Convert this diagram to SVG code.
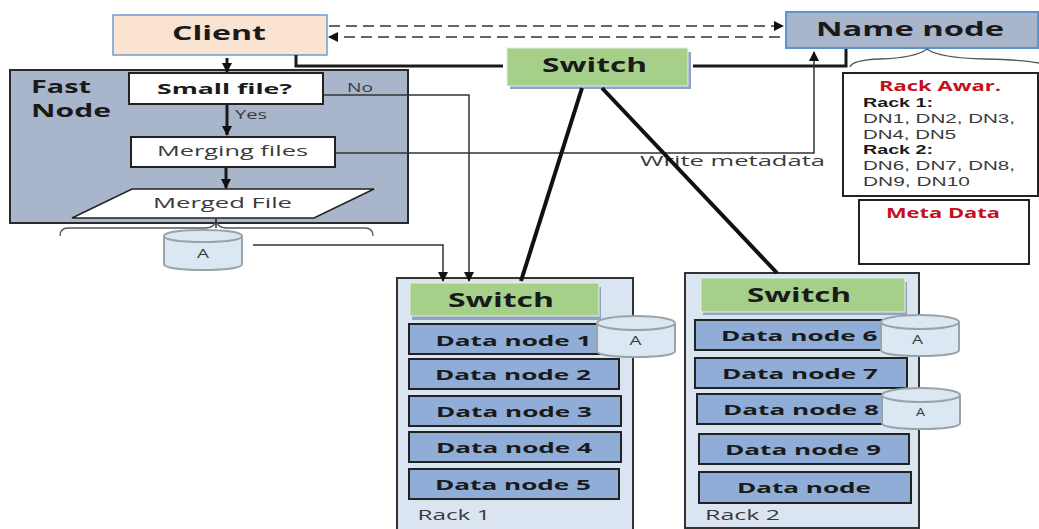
<svg xmlns="http://www.w3.org/2000/svg" width="1039" height="529" viewBox="0 0 1039 529">
<style>
text{font-family:"Open Sans","Liberation Sans",sans-serif;fill:#1a1a1a}
.b{font-weight:700}
.g{fill:#3a3a3a}
.list{font-family:"Liberation Sans",sans-serif;font-size:13px}
.red{fill:#c5101c;font-weight:700;font-size:14px}
.box{stroke:#222;stroke-width:2}
.dn{fill:#8fadd6;stroke:#222;stroke-width:2}
.sw{fill:#a6d08a;stroke:#e6efe0;stroke-width:1}
.shadow{fill:#8fa3c4}
.rack{fill:#dbe5f1;stroke:#333;stroke-width:2}
.cyl{fill:#dbe7f3;stroke:#9aa3a8;stroke-width:2}
.thick{fill:none;stroke:#1a1a1a;stroke-width:3}
.heavy{fill:none;stroke:#111;stroke-width:4}
.thin{fill:none;stroke:#333;stroke-width:1.5}
.dash{fill:none;stroke:#333;stroke-width:1.5;stroke-dasharray:11 6}
.brace{fill:none;stroke:#555;stroke-width:1.3}
</style>
<defs>
<marker id="arrow" viewBox="0 0 10 10" refX="9" refY="5" markerWidth="13" markerHeight="10" markerUnits="userSpaceOnUse" orient="auto"><path d="M0 0L10 5L0 10z" fill="#111"/></marker>
</defs>

<g id="client"><rect x="113" y="15" width="214" height="40" fill="#fbe3d2" stroke="#6f9ccb" stroke-width="1.5"/><text class="b" x="172" y="40" font-size="20" textLength="94" lengthAdjust="spacingAndGlyphs">Client</text></g>
<g id="name-node"><rect x="786" y="12" width="252" height="36" fill="#a8b5cb" stroke="#5b93cf" stroke-width="2"/><text class="b" x="816" y="36" font-size="20" textLength="188" lengthAdjust="spacingAndGlyphs">Name node</text></g>
<g id="switch-top"><rect x="510" y="52" width="181" height="37" class="shadow"/><rect x="507" y="48" width="181" height="38" class="sw"/><text class="b" x="542" y="72" font-size="20" textLength="105" lengthAdjust="spacingAndGlyphs">Switch</text></g>

<g id="fast-node"><rect x="10" y="70" width="398" height="153" fill="#a8b5cb" stroke="#2a2a2a" stroke-width="2"/>
<text class="b" x="31" y="93" font-size="18" textLength="60" lengthAdjust="spacingAndGlyphs">Fast</text>
<text class="b" x="31" y="117" font-size="18" textLength="80" lengthAdjust="spacingAndGlyphs">Node</text>
<text class="g" x="347" y="92" font-size="13" textLength="26" lengthAdjust="spacingAndGlyphs">No</text>
<text class="g" x="235" y="119" font-size="13" textLength="32" lengthAdjust="spacingAndGlyphs">Yes</text></g>
<g id="small-file"><rect x="129" y="73" width="194" height="31" fill="#fff" class="box"/><text class="b" x="157" y="94" font-size="15" textLength="135" lengthAdjust="spacingAndGlyphs">Small file?</text></g>
<g id="merging-files"><rect x="131" y="137" width="204" height="30" fill="#fff" class="box"/><text class="g" x="157" y="156" font-size="15" textLength="151" lengthAdjust="spacingAndGlyphs">Merging files</text></g>
<g id="merged-file"><polygon points="132,189 374,189 314,218 72,218" fill="#fff" stroke="#222" stroke-width="1.5"/><text class="g" x="153" y="208" font-size="15" textLength="139" lengthAdjust="spacingAndGlyphs">Merged File</text></g>
<g id="brace-fast"><path class="brace" d="M60 236Q60 228 68 228L205 228Q216 228 216 218Q216 228 227 228L365 228Q373 228 373 236"/></g>
<g id="cylinder-source"><path class="cyl" d="M164 236V264C164 268 182 270 203 270S242 268 242 264V236"/><path class="cyl" d="M164 236C164 232 182 230 203 230S242 232 242 236S224 242 203 242S164 240 164 236Z"/><text class="g" x="197" y="258" font-size="12" textLength="12" lengthAdjust="spacingAndGlyphs">A</text></g>

<g id="brace-name"><path class="brace" d="M850 67Q852 60 880 59Q915 58 927 49Q939 58 985 59Q1025 60 1039 63"/></g>
<g id="rack-awareness"><rect x="843" y="73" width="195" height="123" fill="#fff" class="box"/>
<text class="red" x="879" y="91" textLength="122" lengthAdjust="spacingAndGlyphs">Rack Awar.</text>
<text class="list b" x="863" y="107" textLength="70" lengthAdjust="spacingAndGlyphs">Rack 1:</text>
<text class="list g" x="863" y="123" textLength="152" lengthAdjust="spacingAndGlyphs">DN1, DN2, DN3,</text>
<text class="list g" x="863" y="138.5" textLength="93" lengthAdjust="spacingAndGlyphs">DN4, DN5</text>
<text class="list b" x="863" y="154" textLength="70" lengthAdjust="spacingAndGlyphs">Rack 2:</text>
<text class="list g" x="863" y="170" textLength="152" lengthAdjust="spacingAndGlyphs">DN6, DN7, DN8,</text>
<text class="list g" x="863" y="185.5" textLength="107" lengthAdjust="spacingAndGlyphs">DN9, DN10</text></g>
<g id="meta-data"><rect x="859" y="200" width="170" height="64" fill="#fff" class="box"/><text class="red" x="886" y="218" textLength="114" lengthAdjust="spacingAndGlyphs">Meta Data</text></g>

<g id="rack-1"><rect x="397" y="278" width="236" height="260" class="rack"/><text class="g" x="417.5" y="520" font-size="14" textLength="73" lengthAdjust="spacingAndGlyphs">Rack 1</text></g>
<g id="switch-1"><rect x="412" y="287" width="189" height="33" class="shadow"/><rect x="410" y="283" width="189" height="33" class="sw"/><text class="b" x="448" y="307" font-size="20" textLength="106" lengthAdjust="spacingAndGlyphs">Switch</text></g>
<g id="data-node-1"><rect x="409" y="324" width="210" height="30" class="dn"/><text class="b" x="435.5" y="346" font-size="15" textLength="156" lengthAdjust="spacingAndGlyphs">Data node 1</text></g>
<g id="data-node-2"><rect x="409" y="359" width="210" height="30" class="dn"/><text class="b" x="435" y="380" font-size="15" textLength="156" lengthAdjust="spacingAndGlyphs">Data node 2</text></g>
<g id="data-node-3"><rect x="409" y="396" width="212" height="30" class="dn"/><text class="b" x="436" y="417" font-size="15" textLength="156" lengthAdjust="spacingAndGlyphs">Data node 3</text></g>
<g id="data-node-4"><rect x="409" y="432" width="212" height="30" class="dn"/><text class="b" x="436" y="453" font-size="15" textLength="156" lengthAdjust="spacingAndGlyphs">Data node 4</text></g>
<g id="data-node-5"><rect x="409" y="469" width="210" height="30" class="dn"/><text class="b" x="435" y="490" font-size="15" textLength="156" lengthAdjust="spacingAndGlyphs">Data node 5</text></g>
<g id="cylinder-1"><path class="cyl" d="M597 323V351C597 355 615 357 636 357S675 355 675 351V323"/><path class="cyl" d="M597 323C597 319 615 316 636 316S675 319 675 323S657 330 636 330S597 327 597 323Z"/><text class="g" x="629.5" y="345" font-size="12" textLength="12" lengthAdjust="spacingAndGlyphs">A</text></g>

<g id="rack-2"><rect x="685" y="273" width="234" height="255" class="rack"/><text class="g" x="705" y="520" font-size="14" textLength="75" lengthAdjust="spacingAndGlyphs">Rack 2</text></g>
<g id="switch-2"><rect x="703" y="282" width="204" height="33" class="shadow"/><rect x="701" y="278" width="204" height="34" class="sw"/><text class="b" x="747" y="302" font-size="20" textLength="104" lengthAdjust="spacingAndGlyphs">Switch</text></g>
<g id="data-node-6"><rect x="695" y="320" width="212" height="30" class="dn"/><text class="b" x="721" y="341" font-size="15" textLength="156.5" lengthAdjust="spacingAndGlyphs">Data node 6</text></g>
<g id="data-node-7"><rect x="695" y="358" width="212" height="30" class="dn"/><text class="b" x="722" y="379" font-size="15" textLength="156" lengthAdjust="spacingAndGlyphs">Data node 7</text></g>
<g id="data-node-8"><rect x="697" y="394" width="210" height="30" class="dn"/><text class="b" x="723" y="415" font-size="15" textLength="156" lengthAdjust="spacingAndGlyphs">Data node 8</text></g>
<g id="data-node-9"><rect x="699" y="434" width="210" height="30" class="dn"/><text class="b" x="725" y="455" font-size="15" textLength="156" lengthAdjust="spacingAndGlyphs">Data node 9</text></g>
<g id="data-node-10"><rect x="699" y="472" width="212" height="31" class="dn"/><text class="b" x="737" y="493" font-size="15" textLength="134" lengthAdjust="spacingAndGlyphs">Data node</text></g>
<g id="cylinder-2"><path class="cyl" d="M881 322V350C881 354 899 356 920 356S959 354 959 350V322"/><path class="cyl" d="M881 322C881 318 899 315 920 315S959 318 959 322S941 329 920 329S881 326 881 322Z"/><text class="g" x="912" y="344" font-size="12" textLength="11" lengthAdjust="spacingAndGlyphs">A</text></g>
<g id="cylinder-3"><path class="cyl" d="M882 395V423C882 427 900 429 921 429S960 427 960 423V395"/><path class="cyl" d="M882 395C882 391 900 388 921 388S960 391 960 395S942 402 921 402S882 399 882 395Z"/><text class="g" x="916" y="416" font-size="11" textLength="9" lengthAdjust="spacingAndGlyphs">A</text></g>

<text class="g" x="640" y="166" font-size="15" textLength="185" lengthAdjust="spacingAndGlyphs">Write metadata</text>

<g id="connectors">
<path class="dash" d="M329 26H783" marker-end="url(#arrow)"/>
<path class="dash" d="M780 37H329" marker-end="url(#arrow)"/>
<path class="thick" d="M296 55V66H503"/>
<path class="thick" d="M693 66H846V49"/>
<path class="thick" d="M227 58V72" marker-end="url(#arrow)"/>
<path class="thick" d="M227 105V135" marker-end="url(#arrow)"/>
<path class="thick" d="M226 168V188" marker-end="url(#arrow)"/>
<path class="thin" d="M216 218V228"/>
<path class="thin" d="M323 95H469V281" marker-end="url(#arrow)"/>
<path class="thin" d="M335 153H814V52" marker-end="url(#arrow)"/>
<path class="thin" d="M253 245H443V281" marker-end="url(#arrow)"/>
<path class="heavy" d="M582 88L521 281"/>
<path class="heavy" d="M602 88L777 273"/>
</g>
</svg>
